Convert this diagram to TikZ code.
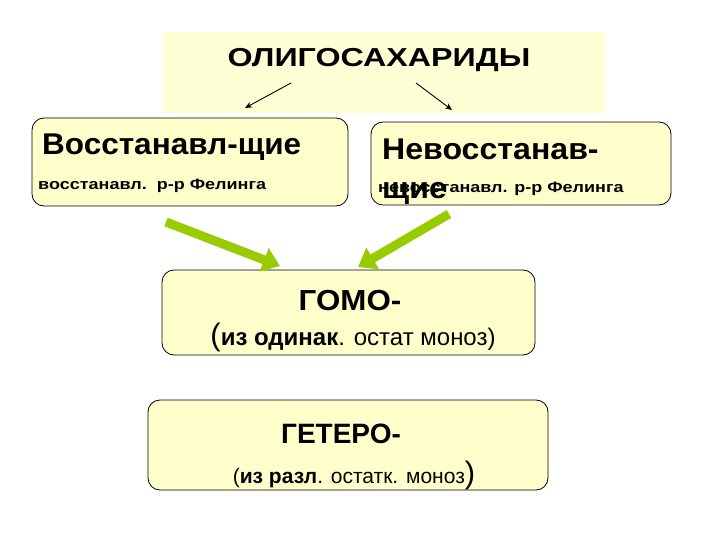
\documentclass[tikz,border=0pt]{standalone}
\usepackage{fontspec}
\setmainfont{Liberation Sans}
\usetikzlibrary{arrows.meta}
\definecolor{boxfill}{RGB}{255,255,204}
\definecolor{topfill}{RGB}{255,255,214}
\definecolor{arrgreen}{RGB}{153,204,0}
\newcommand{\fs}[1]{\fontsize{#1}{#1}\selectfont}
\newcommand{\xs}[2]{\scalebox{#1}[1]{#2}}
\tikzset{
  box/.style={draw=black, line width=0.8pt, fill=boxfill, rounded corners=12pt, inner sep=0pt},
  txt/.style={inner sep=0pt, text=black},
  thin arrow/.style={draw=black, line width=0.9pt, -{Stealth[length=7pt,width=6pt]}},
  green arrow/.style={draw=arrgreen, line width=9pt, -{Triangle[length=17pt,width=24pt]}},
}
\begin{document}
\begin{tikzpicture}[x=1pt,y=-1pt]
\useasboundingbox (0,0) rectangle (720,540);
\fill[white] (0,0) rectangle (720,540);
% top
\node[fill=topfill, inner sep=0pt, minimum width=442pt, minimum height=81pt] (top) at (384,72.5) {};
\node[txt, anchor=base] (title) at (379,67) {\xs{1.24}{\fs{26}\bfseries ОЛИГОСАХАРИДЫ}};
% boxes
\node[box, minimum width=316pt, minimum height=88pt] (b1) at (190,162) {};
\node[box, minimum width=300pt, minimum height=83pt] (b2) at (521,163.5) {};
\node[box, minimum width=373pt, minimum height=85pt] (b3) at (348.5,312.5) {};
\node[box, minimum width=400pt, minimum height=90pt] (b4) at (348,445) {};
% box1 text
\node[txt, anchor=base west] (b1t) at (42,155) {\xs{1.05}{\fs{30}\bfseries Восстанавл-щие}};
\node[txt, anchor=base west] (b1s) at (38,190) {\xs{1.2}{\fs{15}\bfseries восстанавл.\ \ р-р Фелинга}};
% box2 text
\node[txt, anchor=base west] (b2s) at (378,193) {\xs{1.2}{\fs{15}\bfseries невосстанавл. р-р Фелинга}};
\node[txt, anchor=base west] (b2t) at (382,160) {\xs{1.07}{\fs{30}\bfseries Невосстанав-}};
\node[txt, anchor=base west] (b2u) at (382,199) {\xs{1.07}{\fs{30}\bfseries щие}};
% box3 text
\node[txt, anchor=base] (b3t) at (350,310) {\xs{1.08}{\fs{29}\bfseries ГОМО-}};
\node[txt, anchor=base] (b3s) at (353,345) {\fs{31}(\fs{24}\textbf{из одинак}. остат моноз)};
% box4 text
\node[txt, anchor=base] (b4t) at (341,443) {\fs{28}\bfseries ГЕТЕРО-};
\node[txt, anchor=base] (b4s) at (354,483) {\fs{21}(\textbf{из разл}. остатк. моноз\fs{31})};
% thin arrows
\coordinate (t1) at (291,83);
\coordinate (t2) at (416,83);
\coordinate (h1) at (245,108);
\coordinate (h2) at (452,110);
\draw[thin arrow] (t1) -- (h1);
\draw[thin arrow] (t2) -- (h2);
% green arrows
\coordinate (g1) at (166,222);
\coordinate (g2) at (449,214);
\coordinate (e1) at (280,266);
\coordinate (e2) at (358,267);
\draw[green arrow] (g1) -- (e1);
\draw[green arrow] (g2) -- (e2);
\end{tikzpicture}
\end{document}
